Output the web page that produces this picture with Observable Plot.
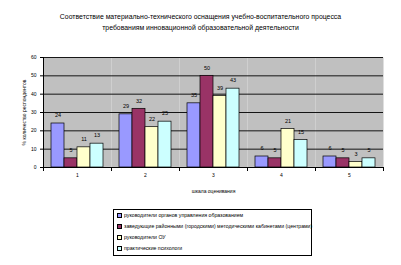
<!DOCTYPE html>
<html><head><meta charset="utf-8">
<script src="https://cdn.jsdelivr.net/npm/d3@7"></script>
<script src="https://cdn.jsdelivr.net/npm/@observablehq/plot@0.6"></script>
<style>
body{margin:0;background:#fff;font-family:"Liberation Sans",Arial,sans-serif;}
#wrap{position:relative;width:401px;height:265px;}
#title{position:absolute;left:0;top:11px;width:401px;text-align:center;font-size:6.9px;font-weight:normal;line-height:11px;color:#000;}
#legend{position:absolute;left:113px;top:209px;width:197px;height:45px;border:1px solid #000;font-size:5.2px;}
#legend .row{position:absolute;left:3px;height:6px;line-height:6px;white-space:nowrap;}
#legend .sw{display:inline-block;width:3px;height:3px;border:0.8px solid #000;margin-right:2px;vertical-align:middle;}
</style></head>
<body><div id="wrap"><div id="chart"></div><div id="title"></div><div id="legend"></div></div>
<script>
const titleLines = ["Соответствие материально-технического оснащения учебно-воспитательного процесса","требованиям инновационной образовательной деятельности"];
const groups = ["1","2","3","4","5"];
const series = ["руководители органов управления образованием","заведующие районными (городскими) методическими кабинетами (центрами)","руководители ОУ","практические психологи"];
const colors = ["#9999FF","#993366","#FFFFCC","#CCFFFF"];
const values = [
  [24, 5, 11, 13],
  [29, 32, 22, 25],
  [35, 50, 39, 43],
  [6, 5, 21, 15],
  [6, 5, 3, 5]
];
const yTicks = [0,10,20,30,40,50,60];
const xLabel = "шкала оценивания";
const yLabel = "% количество респондентов";

const data = [];
groups.forEach((g, i) => series.forEach((s, j) => data.push({group: g, series: s, value: values[i][j]})));

const chart = Plot.plot({
  width: 401, height: 265,
  marginLeft: 41, marginRight: 16, marginTop: 57, marginBottom: 98,
  style: {fontFamily: '"Liberation Sans", Arial, sans-serif', fontSize: "5px", background: "transparent", color: "#000"},
  fx: {domain: groups, padding: 0},
  x: {domain: series, paddingInner: 0, paddingOuter: 0.6, axis: null},
  y: {domain: [0, 60]},
  color: {domain: series, range: colors},
  marks: [
    Plot.frame({fill: "#c0c0c0"}),
    Plot.gridY({ticks: yTicks, stroke: "#000", strokeOpacity: 1, strokeWidth: 0.9}),
    Plot.barY(data, {fx: "group", x: "series", y: "value", fill: "series", stroke: "#000", strokeWidth: 0.7}),
    Plot.text(data, {fx: "group", x: "series", y: "value", text: "value", dy: -8, fontSize: 5.5}),
    Plot.frame({anchor: "left", facetAnchor: "left", stroke: "#000"}),
    Plot.frame({anchor: "bottom", stroke: "#000"}),
    Plot.frame({anchor: "left", insetTop: 110, insetBottom: -3, stroke: "#000"}),
    Plot.frame({anchor: "right", insetTop: 110, insetBottom: -3, stroke: "#000"}),
    Plot.axisY({ticks: yTicks, tickSize: 3, tickPadding: 4, fontSize: 5, label: yLabel, labelAnchor: "center", labelOffset: 21, labelArrow: "none"}),
    Plot.axisFx({anchor: "bottom", tickSize: 0, tickPadding: 6, fontSize: 5, label: xLabel, labelAnchor: "center", labelOffset: 25})
  ]
});
document.getElementById("chart").appendChild(chart);

document.getElementById("title").innerHTML = titleLines.join("<br>");
const leg = document.getElementById("legend");
series.forEach((s, j) => {
  const r = document.createElement("div");
  r.className = "row";
  r.style.top = (2 + j * 11) + "px";
  r.innerHTML = `<span class="sw" style="background:${colors[j]}"></span>${s}`;
  leg.appendChild(r);
});
</script></body></html>
